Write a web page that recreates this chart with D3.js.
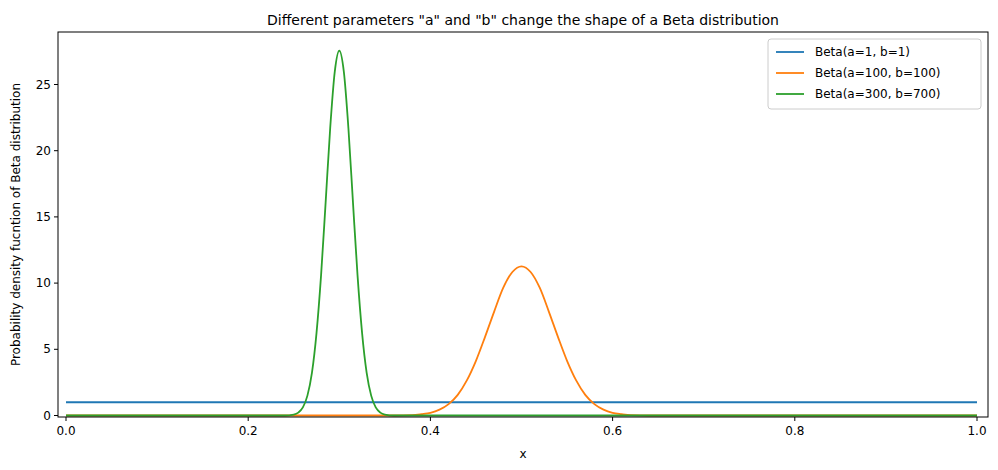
<!DOCTYPE html><html><head><script src="https://d3js.org/d3.v7.min.js"></script>
<style>body{margin:0;background:#fff}text{font-family:"DejaVu Sans";fill:#000}</style></head><body><svg width="998" height="470"></svg><script>
const labels=["Beta(a=1, b=1)","Beta(a=100, b=100)","Beta(a=300, b=700)"];
const colors=["#1f77b4","#ff7f0e","#2ca02c"];
const uniformX=[0,1], uniformY=[1,1];
const orangeX=[0,0.34,0.36,0.38,0.39,0.40,0.41,0.42,0.43,0.44,0.45,0.46,0.47,0.48,0.49,0.50,0.51,0.52,0.53,0.54,0.55,0.56,0.57,0.58,0.59,0.60,0.61,0.62,0.64,0.66,1];
const orangeY=[0,0,0,0.03,0.1,0.2,0.44,0.86,1.56,2.65,4.13,5.94,7.85,9.65,10.84,11.27,10.84,9.65,7.85,5.94,4.13,2.65,1.56,0.86,0.44,0.2,0.1,0.03,0,0,0];
const greenX=[0,0.24,0.25,0.255,0.26,0.265,0.27,0.275,0.28,0.285,0.29,0.295,0.30,0.305,0.31,0.315,0.32,0.325,0.33,0.335,0.34,0.345,0.35,0.36,1];
const greenY=[0,0,0.07,0.22,0.61,1.5,3.24,6.24,10.6,16.1,21.7,25.95,27.55,25.95,21.7,16.1,10.6,6.24,3.24,1.5,0.61,0.22,0.07,0,0];
const xTicks=[0,0.2,0.4,0.6,0.8,1.0], yTicks=[0,5,10,15,20,25];
const svg=d3.select("svg");
const L=58,R=988,T=32,B=417;
const x=d3.scaleLinear().domain([0,1]).range([66,977]);
const y=d3.scaleLinear().domain([0,25]).range([415.5,84.5]);
const g=svg.append("g");
const line=d3.line().x(d=>x(d[0])).y(d=>y(d[1])).curve(d3.curveMonotoneX);
[[uniformX,uniformY],[orangeX,orangeY],[greenX,greenY]].forEach((s,i)=>{
 g.append("path").attr("d",line(s[0].map((v,j)=>[v,s[1][j]]))).attr("fill","none").attr("stroke",colors[i]).attr("stroke-width",1.8);
});
svg.append("rect").attr("x",L).attr("y",T).attr("width",R-L).attr("height",B-T).attr("fill","none").attr("stroke","#000").attr("stroke-width",1);
xTicks.forEach(t=>{svg.append("line").attr("x1",x(t)).attr("x2",x(t)).attr("y1",B).attr("y2",B+4).attr("stroke","#000");
 svg.append("text").attr("x",x(t)).attr("y",B+18).attr("text-anchor","middle").attr("font-size",12).text(d3.format(".1f")(t));});
yTicks.forEach(t=>{svg.append("line").attr("x1",L).attr("x2",L-4).attr("y1",y(t)).attr("y2",y(t)).attr("stroke","#000");
 svg.append("text").attr("x",L-7).attr("y",y(t)+4).attr("text-anchor","end").attr("font-size",12).text(t);});
svg.append("text").attr("x",(L+R)/2).attr("y",25).attr("text-anchor","middle").attr("font-size",14).text('Different parameters "a" and "b" change the shape of a Beta distribution');
svg.append("text").attr("x",(L+R)/2).attr("y",458).attr("text-anchor","middle").attr("font-size",12).text("x");
svg.append("text").attr("transform",`translate(20,${(T+B)/2}) rotate(-90)`).attr("text-anchor","middle").attr("font-size",12).text("Probability density fucntion of Beta distribution");
const lg=svg.append("g");
lg.append("rect").attr("x",768).attr("y",39).attr("width",213).attr("height",70).attr("rx",3).attr("fill","#fff").attr("stroke","#ccc");
labels.forEach((l,i)=>{const yy=52+i*21;
 lg.append("line").attr("x1",776).attr("x2",804).attr("y1",yy).attr("y2",yy).attr("stroke",colors[i]).attr("stroke-width",1.8);
 lg.append("text").attr("x",815).attr("y",yy+4).attr("font-size",12).text(l);});
</script></body></html>
